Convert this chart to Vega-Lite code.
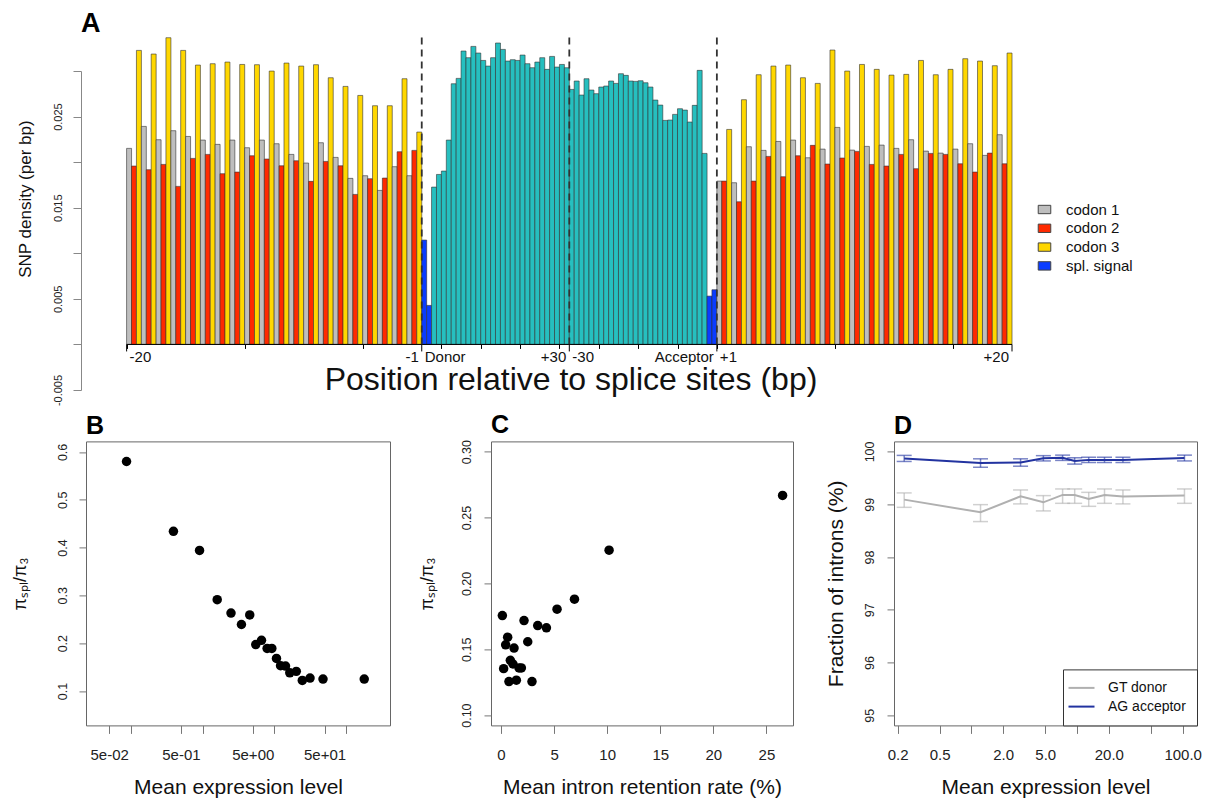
{
 "$schema": "https://vega.github.io/schema/vega-lite/v6.json",
 "background": "white",
 "padding": {"left": 11, "top": 9, "right": 5, "bottom": 0},
 "config": {
  "font": "Liberation Sans",
  "view": {"stroke": "#666", "strokeWidth": 1},
  "axis": {"grid": false, "labelColor": "#222", "titleColor": "#111", "titleFontWeight": "normal", "tickColor": "#777", "domainColor": "#777", "labelOverlap": false, "labelFlush": false, "labelFont": "Liberation Sans", "titleFont": "Liberation Sans"},
  "legend": {"labelFont": "Liberation Sans"},
  "title": {"fontWeight": "bold", "fontSize": 25, "anchor": "start", "frame": "group", "color": "#000", "offset": 2, "baseline": "alphabetic"}
 },
 "resolve": {"scale": {"color": "independent"}, "legend": {"color": "independent"}},
 "datasets": {
  "bars": [
   {"p":1,"c":"codon 1","v":0.02151},{"p":2,"c":"codon 2","v":0.01957},{"p":3,"c":"codon 3","v":0.03226},
   {"p":4,"c":"codon 1","v":0.02392},{"p":5,"c":"codon 2","v":0.01917},{"p":6,"c":"codon 3","v":0.03186},
   {"p":7,"c":"codon 1","v":0.02246},{"p":8,"c":"codon 2","v":0.01975},{"p":9,"c":"codon 3","v":0.03365},
   {"p":10,"c":"codon 1","v":0.02345},{"p":11,"c":"codon 2","v":0.01734},{"p":12,"c":"codon 3","v":0.03226},
   {"p":13,"c":"codon 1","v":0.02282},{"p":14,"c":"codon 2","v":0.02041},{"p":15,"c":"codon 3","v":0.03065},
   {"p":16,"c":"codon 1","v":0.02242},{"p":17,"c":"codon 2","v":0.02085},{"p":18,"c":"codon 3","v":0.03080},
   {"p":19,"c":"codon 1","v":0.02195},{"p":20,"c":"codon 2","v":0.01873},{"p":21,"c":"codon 3","v":0.03098},
   {"p":22,"c":"codon 1","v":0.02242},{"p":23,"c":"codon 2","v":0.01891},{"p":24,"c":"codon 3","v":0.03072},
   {"p":25,"c":"codon 1","v":0.02158},{"p":26,"c":"codon 2","v":0.02070},{"p":27,"c":"codon 3","v":0.03069},
   {"p":28,"c":"codon 1","v":0.02242},{"p":29,"c":"codon 2","v":0.02034},{"p":30,"c":"codon 3","v":0.02999},
   {"p":31,"c":"codon 1","v":0.02202},{"p":32,"c":"codon 2","v":0.01960},{"p":33,"c":"codon 3","v":0.03087},
   {"p":34,"c":"codon 1","v":0.02085},{"p":35,"c":"codon 2","v":0.02015},{"p":36,"c":"codon 3","v":0.03054},
   {"p":37,"c":"codon 1","v":0.01990},{"p":38,"c":"codon 2","v":0.01789},{"p":39,"c":"codon 3","v":0.03069},
   {"p":40,"c":"codon 1","v":0.02213},{"p":41,"c":"codon 2","v":0.02008},{"p":42,"c":"codon 3","v":0.02926},
   {"p":43,"c":"codon 1","v":0.02052},{"p":44,"c":"codon 2","v":0.01960},{"p":45,"c":"codon 3","v":0.02831},
   {"p":46,"c":"codon 1","v":0.01822},{"p":47,"c":"codon 2","v":0.01646},{"p":48,"c":"codon 3","v":0.02732},
   {"p":49,"c":"codon 1","v":0.01851},{"p":50,"c":"codon 2","v":0.01818},{"p":51,"c":"codon 3","v":0.02619},
   {"p":52,"c":"codon 1","v":0.01690},{"p":53,"c":"codon 2","v":0.01825},{"p":54,"c":"codon 3","v":0.02619},
   {"p":55,"c":"codon 1","v":0.01950},{"p":56,"c":"codon 2","v":0.02114},{"p":57,"c":"codon 3","v":0.02915},
   {"p":58,"c":"codon 1","v":0.01851},{"p":59,"c":"codon 2","v":0.02129},{"p":60,"c":"codon 3","v":0.02330},
   {"p":61,"c":"spl. signal","v":0.01145},{"p":62,"c":"spl. signal","v":0.00428},
   {"p":63,"c":"intron","v":0.01726},{"p":64,"c":"intron","v":0.01865},{"p":65,"c":"intron","v":0.01902},
   {"p":66,"c":"intron","v":0.02242},{"p":67,"c":"intron","v":0.02860},{"p":68,"c":"intron","v":0.02919},
   {"p":69,"c":"intron","v":0.03219},{"p":70,"c":"intron","v":0.03146},{"p":71,"c":"intron","v":0.03270},
   {"p":72,"c":"intron","v":0.03197},{"p":73,"c":"intron","v":0.03116},{"p":74,"c":"intron","v":0.03054},
   {"p":75,"c":"intron","v":0.03146},{"p":76,"c":"intron","v":0.03307},{"p":77,"c":"intron","v":0.03237},
   {"p":78,"c":"intron","v":0.03109},{"p":79,"c":"intron","v":0.03124},{"p":80,"c":"intron","v":0.03116},
   {"p":81,"c":"intron","v":0.03175},{"p":82,"c":"intron","v":0.03080},{"p":83,"c":"intron","v":0.03036},
   {"p":84,"c":"intron","v":0.03098},{"p":85,"c":"intron","v":0.03146},{"p":86,"c":"intron","v":0.03018},
   {"p":87,"c":"intron","v":0.03160},{"p":88,"c":"intron","v":0.03043},{"p":89,"c":"intron","v":0.03072},
   {"p":90,"c":"intron","v":0.03036},
   {"p":91,"c":"intron","v":0.02798},{"p":92,"c":"intron","v":0.02890},{"p":93,"c":"intron","v":0.02736},
   {"p":94,"c":"intron","v":0.02915},{"p":95,"c":"intron","v":0.02791},{"p":96,"c":"intron","v":0.02751},
   {"p":97,"c":"intron","v":0.02824},{"p":98,"c":"intron","v":0.02835},{"p":99,"c":"intron","v":0.02890},
   {"p":100,"c":"intron","v":0.02864},{"p":101,"c":"intron","v":0.02970},{"p":102,"c":"intron","v":0.02952},
   {"p":103,"c":"intron","v":0.02890},{"p":104,"c":"intron","v":0.02886},{"p":105,"c":"intron","v":0.02893},
   {"p":106,"c":"intron","v":0.02871},{"p":107,"c":"intron","v":0.02824},{"p":108,"c":"intron","v":0.02681},
   {"p":109,"c":"intron","v":0.02626},{"p":110,"c":"intron","v":0.02458},{"p":111,"c":"intron","v":0.02462},
   {"p":112,"c":"intron","v":0.02524},{"p":113,"c":"intron","v":0.02586},{"p":114,"c":"intron","v":0.02571},
   {"p":115,"c":"intron","v":0.02440},{"p":116,"c":"intron","v":0.02623},{"p":117,"c":"intron","v":0.03007},
   {"p":118,"c":"intron","v":0.02096},{"p":119,"c":"spl. signal","v":0.00530},{"p":120,"c":"spl. signal","v":0.00600},
   {"p":121,"c":"codon 1","v":0.01792},{"p":122,"c":"codon 2","v":0.01792},{"p":123,"c":"codon 3","v":0.02359},
   {"p":124,"c":"codon 1","v":0.01774},{"p":125,"c":"codon 2","v":0.01565},{"p":126,"c":"codon 3","v":0.02685},
   {"p":127,"c":"codon 1","v":0.02169},{"p":128,"c":"codon 2","v":0.01792},{"p":129,"c":"codon 3","v":0.02959},
   {"p":130,"c":"codon 1","v":0.02129},{"p":131,"c":"codon 2","v":0.02063},{"p":132,"c":"codon 3","v":0.03054},
   {"p":133,"c":"codon 1","v":0.02227},{"p":134,"c":"codon 2","v":0.01840},{"p":135,"c":"codon 3","v":0.03065},
   {"p":136,"c":"codon 1","v":0.02242},{"p":137,"c":"codon 2","v":0.02070},{"p":138,"c":"codon 3","v":0.02926},
   {"p":139,"c":"codon 1","v":0.02048},{"p":140,"c":"codon 2","v":0.02184},{"p":141,"c":"codon 3","v":0.02864},
   {"p":142,"c":"codon 1","v":0.02143},{"p":143,"c":"codon 2","v":0.01979},{"p":144,"c":"codon 3","v":0.03230},
   {"p":145,"c":"codon 1","v":0.02381},{"p":146,"c":"codon 2","v":0.02045},{"p":147,"c":"codon 3","v":0.02999},
   {"p":148,"c":"codon 1","v":0.02132},{"p":149,"c":"codon 2","v":0.02118},{"p":150,"c":"codon 3","v":0.03072},
   {"p":151,"c":"codon 1","v":0.02173},{"p":152,"c":"codon 2","v":0.01975},{"p":153,"c":"codon 3","v":0.03018},
   {"p":154,"c":"codon 1","v":0.02187},{"p":155,"c":"codon 2","v":0.01957},{"p":156,"c":"codon 3","v":0.02955},
   {"p":157,"c":"codon 1","v":0.02151},{"p":158,"c":"codon 2","v":0.02085},{"p":159,"c":"codon 3","v":0.02963},
   {"p":160,"c":"codon 1","v":0.02246},{"p":161,"c":"codon 2","v":0.01928},{"p":162,"c":"codon 3","v":0.03116},
   {"p":163,"c":"codon 1","v":0.02121},{"p":164,"c":"codon 2","v":0.02096},{"p":165,"c":"codon 3","v":0.02959},
   {"p":166,"c":"codon 1","v":0.02099},{"p":167,"c":"codon 2","v":0.02085},{"p":168,"c":"codon 3","v":0.03018},
   {"p":169,"c":"codon 1","v":0.02143},{"p":170,"c":"codon 2","v":0.01982},{"p":171,"c":"codon 3","v":0.03135},
   {"p":172,"c":"codon 1","v":0.02202},{"p":173,"c":"codon 2","v":0.01891},{"p":174,"c":"codon 3","v":0.03109},
   {"p":175,"c":"codon 1","v":0.02074},{"p":176,"c":"codon 2","v":0.02099},{"p":177,"c":"codon 3","v":0.03058},
   {"p":178,"c":"codon 1","v":0.02301},{"p":179,"c":"codon 2","v":0.01982},{"p":180,"c":"codon 3","v":0.03197}
  ],
  "vlines": [{"p":60.5},{"p":90.5},{"p":120.5}],
  "majt": [{"p":0.5},{"p":60.5},{"p":90.5},{"p":120.5},{"p":180.5}],
  "xlab": [
   {"p":0.5,"t":"-20","a":"l"},{"p":60.5,"t":"Donor","a":"l"},{"p":90.5,"t":"-30","a":"l"},{"p":120.5,"t":"+1","a":"l"},
   {"p":60.5,"t":"-1","a":"r"},{"p":90.5,"t":"+30","a":"r"},{"p":120.5,"t":"Acceptor","a":"r"},{"p":180.5,"t":"+20","a":"r"}
  ],
  "bpts": [
   {"x":0.0873,"y":0.580},{"x":0.393,"y":0.434},{"x":0.908,"y":0.394},{"x":1.60,"y":0.291},{"x":2.49,"y":0.263},
   {"x":3.48,"y":0.239},{"x":4.54,"y":0.259},{"x":5.51,"y":0.197},{"x":6.62,"y":0.206},{"x":7.93,"y":0.189},
   {"x":9.22,"y":0.189},{"x":10.7,"y":0.168},{"x":12.2,"y":0.153},{"x":14.3,"y":0.152},{"x":16.4,"y":0.138},
   {"x":20.2,"y":0.141},{"x":24.5,"y":0.122},{"x":31.4,"y":0.127},{"x":47.6,"y":0.125},{"x":178.6,"y":0.125}
  ],
  "cpts": [
   {"x":26.52,"y":0.2668},{"x":10.18,"y":0.2252},{"x":6.92,"y":0.188},{"x":5.28,"y":0.1804},{"x":3.46,"y":0.168},
   {"x":4.28,"y":0.1663},{"x":2.17,"y":0.1718},{"x":0.13,"y":0.1756},{"x":2.52,"y":0.1557},{"x":0.63,"y":0.1592},
   {"x":0.44,"y":0.1534},{"x":1.23,"y":0.1509},{"x":0.88,"y":0.1416},{"x":0.25,"y":0.1353},{"x":1.13,"y":0.1388},
   {"x":1.70,"y":0.1358},{"x":1.92,"y":0.1358},{"x":0.75,"y":0.1255},{"x":1.45,"y":0.1265},{"x":2.92,"y":0.1255}
  ],
  "dpts": [
   {"s":"GT donor","x":0.231,"y":99.087,"lo":98.941,"hi":99.214},
   {"s":"GT donor","x":1.22,"y":98.847,"lo":98.671,"hi":98.992},
   {"s":"GT donor","x":2.92,"y":99.149,"lo":99.006,"hi":99.270},
   {"s":"GT donor","x":4.8,"y":99.036,"lo":98.873,"hi":99.163},
   {"s":"GT donor","x":7.3,"y":99.176,"lo":99.017,"hi":99.289},
   {"s":"GT donor","x":9.5,"y":99.176,"lo":99.017,"hi":99.289},
   {"s":"GT donor","x":12.9,"y":99.100,"lo":98.960,"hi":99.225},
   {"s":"GT donor","x":18.2,"y":99.176,"lo":99.017,"hi":99.289},
   {"s":"GT donor","x":27.2,"y":99.144,"lo":99.006,"hi":99.270},
   {"s":"GT donor","x":104,"y":99.163,"lo":99.017,"hi":99.289},
   {"s":"AG acceptor","x":0.231,"y":99.868,"lo":99.81,"hi":99.925},
   {"s":"AG acceptor","x":1.22,"y":99.78,"lo":99.70,"hi":99.86},
   {"s":"AG acceptor","x":2.92,"y":99.79,"lo":99.72,"hi":99.86},
   {"s":"AG acceptor","x":4.8,"y":99.87,"lo":99.82,"hi":99.92},
   {"s":"AG acceptor","x":7.3,"y":99.88,"lo":99.83,"hi":99.93},
   {"s":"AG acceptor","x":9.5,"y":99.82,"lo":99.76,"hi":99.88},
   {"s":"AG acceptor","x":12.9,"y":99.84,"lo":99.79,"hi":99.89},
   {"s":"AG acceptor","x":18.2,"y":99.84,"lo":99.79,"hi":99.89},
   {"s":"AG acceptor","x":27.2,"y":99.84,"lo":99.79,"hi":99.89},
   {"s":"AG acceptor","x":104,"y":99.875,"lo":99.82,"hi":99.93}
  ]
 },
 "bounds": "flush",
 "spacing": 51.4,
 "vconcat": [
  {
   "width": 931,
   "height": 319,
   "view": {"stroke": null},
   "title": {"text": "A", "fontSize": 27, "offset": -2.5, "dx": -5},
   "layer": [
    {
     "data": {"name": "bars"},
     "mark": {"type": "bar", "width": 4.972, "stroke": "#333", "strokeWidth": 0.6},
     "encoding": {
      "x": {"field": "p", "type": "quantitative", "scale": {"domain": [-6.74, 180.5], "nice": false, "zero": false},
       "axis": {"orient": "bottom", "offset": -45.57, "domain": false, "labels": false, "tickSize": 4, "tickColor": "#000",
        "values": [0.5,3.5,6.5,9.5,12.5,15.5,18.5,21.5,24.5,27.5,30.5,33.5,36.5,39.5,42.5,45.5,48.5,51.5,54.5,57.5,60.5,61.5,62.5,63.5,64.5,65.5,66.5,67.5,68.5,69.5,70.5,71.5,72.5,73.5,74.5,75.5,76.5,77.5,78.5,79.5,80.5,81.5,82.5,83.5,84.5,85.5,86.5,87.5,88.5,89.5,90.5,91.5,92.5,93.5,94.5,95.5,96.5,97.5,98.5,99.5,100.5,101.5,102.5,103.5,104.5,105.5,106.5,107.5,108.5,109.5,110.5,111.5,112.5,113.5,114.5,115.5,116.5,117.5,118.5,119.5,120.5,123.5,126.5,129.5,132.5,135.5,138.5,141.5,144.5,147.5,150.5,153.5,156.5,159.5,162.5,165.5,168.5,171.5,174.5,177.5,180.5],
        "title": "Position relative to splice sites (bp)", "titleFontSize": 32, "titlePadding": 16, "titleX": 484.5}},
      "y": {"field": "v", "type": "quantitative", "scale": {"domain": [-0.005, 0.03], "nice": false},
       "axis": {"offset": 5, "values": [-0.005,0,0.005,0.01,0.015,0.02,0.025,0.03],
        "labelExpr": "datum.value==-0.005?'-0.005':datum.value==0.005?'0.005':datum.value==0.015?'0.015':datum.value==0.025?'0.025':''",
        "labelAngle": -90, "labelFontSize": 11, "labelPadding": 9.75, "tickSize": 8, "tickColor": "#888", "domainColor": "#888",
        "title": "SNP density (per bp)", "titleFontSize": 17, "titlePadding": 18, "titleY": 127.6}},
      "color": {"field": "c", "type": "nominal",
       "scale": {"domain": ["codon 1","codon 2","codon 3","spl. signal","intron"], "range": ["#BEBEBE","#FF2A00","#FFD700","#0A3CFF","#26BFBF"]},
       "legend": {"orient": "none", "legendX": 951, "legendY": 131, "title": null, "values": ["codon 1","codon 2","codon 3","spl. signal"],
        "symbolType": "M-1.5,-1H1.5V1H-1.5Z", "symbolSize": 70, "symbolStrokeColor": "#444", "symbolStrokeWidth": 1, "symbolOpacity": 1,
        "labelFontSize": 15, "labelOffset": 14, "rowPadding": 2.8, "labelColor": "#111", "padding": 0}}
     }
    },
    {
     "data": {"values": [{}]},
     "mark": {"type": "rule", "color": "#000", "strokeWidth": 1},
     "encoding": {"x": {"datum": 0.5, "type": "quantitative"}, "x2": {"datum": 180.5}, "y": {"datum": 0, "type": "quantitative"}}
    },
    {
     "data": {"name": "vlines"},
     "mark": {"type": "rule", "strokeDash": [7, 5], "strokeWidth": 1.8, "color": "#333"},
     "encoding": {"x": {"field": "p", "type": "quantitative"}, "y": {"datum": 0, "type": "quantitative"}, "y2": {"datum": 0.0338}}
    },
    {
     "data": {"name": "majt"},
     "mark": {"type": "rule", "color": "#000", "strokeWidth": 1},
     "encoding": {"x": {"field": "p", "type": "quantitative"}, "y": {"datum": 0, "type": "quantitative"}, "y2": {"datum": -0.00077}}
    },
    {
     "data": {"name": "xlab"},
     "transform": [{"filter": "datum.a == 'l'"}],
     "mark": {"type": "text", "align": "left", "baseline": "top", "dx": 3, "dy": 6, "fontSize": 15, "color": "#111"},
     "encoding": {"x": {"field": "p", "type": "quantitative"}, "y": {"datum": 0, "type": "quantitative"}, "text": {"field": "t"}}
    },
    {
     "data": {"name": "xlab"},
     "transform": [{"filter": "datum.a == 'r'"}],
     "mark": {"type": "text", "align": "right", "baseline": "top", "dx": -3, "dy": 6, "fontSize": 15, "color": "#111"},
     "encoding": {"x": {"field": "p", "type": "quantitative"}, "y": {"datum": 0, "type": "quantitative"}, "text": {"field": "t"}}
    }
   ]
  },
  {
   "bounds": "flush",
   "spacing": 101,
   "resolve": {"scale": {"color": "independent"}, "legend": {"color": "independent"}},
   "hconcat": [
    {
     "width": 304, "height": 284,
     "title": {"text": "B"},
     "data": {"name": "bpts"},
     "mark": {"type": "point", "filled": true, "size": 90, "color": "#000", "opacity": 1},
     "encoding": {
      "x": {"field": "x", "type": "quantitative", "scale": {"type": "log", "domain": [0.0238, 408], "nice": false},
       "axis": {"values": [0.05,0.1,0.5,1,5,10,50,100],
        "labelExpr": "datum.value==0.05?'5e-02':datum.value==0.5?'5e-01':datum.value==5?'5e+00':datum.value==50?'5e+01':''",
        "domain": false, "tickSize": 8, "labelFontSize": 15, "labelPadding": 14.5, "title": "Mean expression level", "titleFontSize": 21, "titlePadding": 14}},
      "y": {"field": "y", "type": "quantitative", "scale": {"domain": [0.028, 0.622], "nice": false, "zero": false},
       "axis": {"values": [0.1,0.2,0.3,0.4,0.5,0.6], "format": ".1f", "labelAngle": -90, "domain": false, "tickSize": 7,
        "labelFontSize": 12.5, "labelPadding": 9.5, "title": "πₛₚₗ/π₃", "titleFontSize": 18, "titlePadding": 27}}
     }
    },
    {
     "width": 302, "height": 284,
     "title": {"text": "C"},
     "data": {"name": "cpts"},
     "mark": {"type": "point", "filled": true, "size": 90, "color": "#000", "opacity": 1},
     "encoding": {
      "x": {"field": "x", "type": "quantitative", "scale": {"domain": [-0.94, 27.5], "nice": false, "zero": false},
       "axis": {"values": [0,5,10,15,20,25], "domain": false, "tickSize": 8, "labelFontSize": 15, "labelPadding": 14.5,
        "title": "Mean intron retention rate (%)", "titleFontSize": 21, "titlePadding": 14}},
      "y": {"field": "y", "type": "quantitative", "scale": {"domain": [0.0922, 0.3078], "nice": false, "zero": false},
       "axis": {"values": [0.1,0.15,0.2,0.25,0.3], "format": ".2f", "labelAngle": -90, "domain": false, "tickSize": 7,
        "labelFontSize": 12.5, "labelPadding": 10.5, "title": "πₛₚₗ/π₃", "titleFontSize": 18, "titlePadding": 24}}
     }
    },
    {
     "width": 303, "height": 284,
     "title": {"text": "D"},
     "data": {"name": "dpts"},
     "layer": [
      {
       "mark": {"type": "rule", "strokeWidth": 1.5, "opacity": 0.6},
       "encoding": {
        "x": {"field": "x", "type": "quantitative", "title": "Mean expression level", "scale": {"type": "log", "domain": [0.185, 136.7], "nice": false},
         "axis": {"values": [0.2,0.5,1,2,5,10,20,50,100], "labelExpr": "(datum.value==1 || datum.value==10 || datum.value==50) ? '' : format(datum.value, '.1f')",
          "domain": false, "tickSize": 8, "labelFontSize": 15, "labelPadding": 14.5, "titleFontSize": 21, "titlePadding": 14}},
        "y": {"field": "lo", "type": "quantitative", "title": "Fraction of introns (%)", "scale": {"domain": [94.81, 100.19], "nice": false, "zero": false},
         "axis": {"values": [95,96,97,98,99,100], "format": "d", "labelAngle": -90, "domain": false, "tickSize": 7,
          "labelFontSize": 12.5, "labelPadding": 11, "titleFontSize": 21, "titlePadding": 16.5}},
        "y2": {"field": "hi"},
        "color": {"field": "s", "type": "nominal", "scale": {"domain": ["GT donor","AG acceptor"], "range": ["#B0B0B0","#2233A0"]},
         "legend": {"orient": "bottom-right", "offset": 0, "title": null, "strokeColor": "#333", "fillColor": "white", "padding": 11,
          "symbolType": "M-2,0H2", "symbolSize": 169, "symbolStrokeWidth": 2, "symbolOpacity": 1, "labelFontSize": 14, "labelOffset": 19, "rowPadding": 3.7, "labelColor": "#111"}}
       }
      },
      {
       "mark": {"type": "tick", "orient": "horizontal", "size": 15, "thickness": 1.5, "opacity": 0.6},
       "encoding": {
        "x": {"field": "x", "type": "quantitative", "title": "Mean expression level", "scale": {"type": "log", "domain": [0.185, 136.7], "nice": false}},
        "y": {"field": "lo", "type": "quantitative", "title": "Fraction of introns (%)", "scale": {"domain": [94.81, 100.19], "nice": false, "zero": false}},
        "color": {"field": "s", "type": "nominal", "scale": {"domain": ["GT donor","AG acceptor"], "range": ["#B0B0B0","#2233A0"]},
         "legend": {"orient": "bottom-right", "offset": 0, "title": null, "strokeColor": "#333", "fillColor": "white", "padding": 11,
          "symbolType": "M-2,0H2", "symbolSize": 169, "symbolStrokeWidth": 2, "symbolOpacity": 1, "labelFontSize": 14, "labelOffset": 19, "rowPadding": 3.7, "labelColor": "#111"}}
       }
      },
      {
       "mark": {"type": "tick", "orient": "horizontal", "size": 15, "thickness": 1.5, "opacity": 0.6},
       "encoding": {
        "x": {"field": "x", "type": "quantitative", "title": "Mean expression level", "scale": {"type": "log", "domain": [0.185, 136.7], "nice": false}},
        "y": {"field": "hi", "type": "quantitative", "title": "Fraction of introns (%)", "scale": {"domain": [94.81, 100.19], "nice": false, "zero": false}},
        "color": {"field": "s", "type": "nominal", "scale": {"domain": ["GT donor","AG acceptor"], "range": ["#B0B0B0","#2233A0"]},
         "legend": {"orient": "bottom-right", "offset": 0, "title": null, "strokeColor": "#333", "fillColor": "white", "padding": 11,
          "symbolType": "M-2,0H2", "symbolSize": 169, "symbolStrokeWidth": 2, "symbolOpacity": 1, "labelFontSize": 14, "labelOffset": 19, "rowPadding": 3.7, "labelColor": "#111"}}
       }
      },
      {
       "mark": {"type": "line", "strokeWidth": 2},
       "encoding": {
        "x": {"field": "x", "type": "quantitative", "title": "Mean expression level", "scale": {"type": "log", "domain": [0.185, 136.7], "nice": false}},
        "y": {"field": "y", "type": "quantitative", "title": "Fraction of introns (%)", "scale": {"domain": [94.81, 100.19], "nice": false, "zero": false}},
        "color": {"field": "s", "type": "nominal", "scale": {"domain": ["GT donor","AG acceptor"], "range": ["#B0B0B0","#2233A0"]},
         "legend": {"orient": "bottom-right", "offset": 0, "title": null, "strokeColor": "#333", "fillColor": "white", "padding": 11,
          "symbolType": "M-2,0H2", "symbolSize": 169, "symbolStrokeWidth": 2, "symbolOpacity": 1, "labelFontSize": 14, "labelOffset": 19, "rowPadding": 3.7, "labelColor": "#111"}}
       }
      }
     ]
    }
   ]
  }
 ]
}
